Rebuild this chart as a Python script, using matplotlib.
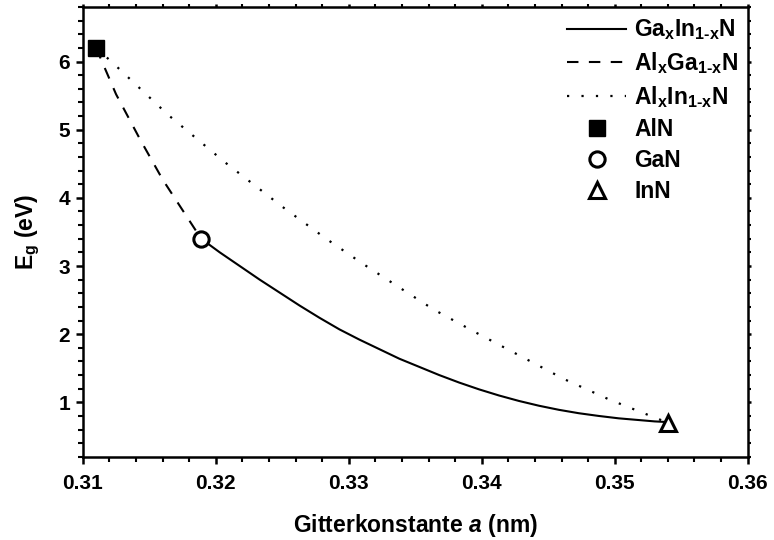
import numpy as np
import matplotlib
matplotlib.use("Agg")
import matplotlib.pyplot as plt
from matplotlib.ticker import MultipleLocator

# --- Fonts ---
plt.rcParams['font.family'] = ['Liberation Sans', 'DejaVu Sans']
plt.rcParams['font.weight'] = 'bold'
plt.rcParams['mathtext.fontset'] = 'custom'
plt.rcParams['mathtext.rm'] = 'Liberation Sans:bold'
plt.rcParams['mathtext.it'] = 'Liberation Sans:bold:italic'
plt.rcParams['mathtext.bf'] = 'Liberation Sans:bold'

# --- Data ---
# binary compounds: lattice constant a (nm), band gap Eg (eV)
aln = (0.3110, 6.20)
gan = (0.3189, 3.40)
inn = (0.3540, 0.70)

# Ga(x)In(1-x)N, solid
gainn_a = [0.3189, 0.3203, 0.3218, 0.3233, 0.3248, 0.3263, 0.3278, 0.3293,
           0.3308, 0.3323, 0.3338, 0.3353, 0.3368, 0.3383, 0.3398, 0.3413,
           0.3428, 0.3443, 0.3458, 0.3473, 0.3488, 0.3503, 0.3518, 0.3530,
           0.3540]
gainn_eg = [3.40, 3.20, 3.00, 2.80, 2.61, 2.42, 2.24, 2.07,
            1.92, 1.78, 1.64, 1.52, 1.40, 1.29, 1.19, 1.10,
            1.02, 0.95, 0.89, 0.84, 0.80, 0.765, 0.74, 0.72,
            0.71]

# Al(x)Ga(1-x)N, dashed
algan_a = [0.3110, 0.3125, 0.3143, 0.3160, 0.3178, 0.3189]
algan_eg = [6.20, 5.52, 4.86, 4.27, 3.73, 3.40]

# Al(x)In(1-x)N, dotted
alinn_a = [0.3110, 0.3122, 0.3164, 0.3207, 0.3250, 0.3283, 0.3310, 0.3344,
           0.3364, 0.3395, 0.3429, 0.3462, 0.3496, 0.3540]
alinn_eg = [6.20, 5.99, 5.22, 4.52, 3.87, 3.40, 3.04, 2.61,
            2.36, 2.03, 1.68, 1.34, 1.04, 0.70]

# --- Plot ---
fig = plt.figure(figsize=(7.74, 5.40), dpi=100)
ax = fig.add_axes([0.107, 0.154, 0.859, 0.833])

ax.plot(gainn_a, gainn_eg, color='black', lw=1.5, ls='-',
        label=r'Ga$_\mathrm{x}$In$_\text{1-x}$N')
ax.plot(algan_a, algan_eg, color='black', lw=1.5, ls=(0, (5.5, 5)),
        label=r'Al$_\mathrm{x}$Ga$_\text{1-x}$N')
ax.plot(alinn_a, alinn_eg, color='black', lw=1.6, ls=(0, (1, 5.5)),
        label=r'Al$_\mathrm{x}$In$_\text{1-x}$N')

ax.plot([aln[0]], [aln[1]], ls='none', marker='s', ms=11,
        mfc='black', mec='black', label='AlN')
ax.plot([gan[0]], [gan[1]], ls='none', marker='o', ms=11,
        mfc='white', mec='black', mew=2.2, label='GaN')
ax.plot([inn[0]], [inn[1]], ls='none', marker='^', ms=12,
        mfc='white', mec='black', mew=2.2, label='InN')

ax.set_xlim(0.31, 0.36)
ax.set_ylim(0.2, 6.8)
ax.xaxis.set_minor_locator(MultipleLocator(0.002))
ax.yaxis.set_minor_locator(MultipleLocator(0.2))
ax.set_xticks([0.31, 0.32, 0.33, 0.34, 0.35, 0.36])
ax.set_xticklabels(['0.31', '0.32', '0.33', '0.34', '0.35', '0.36'])
ax.set_yticks([1, 2, 3, 4, 5, 6])

for sp in ax.spines.values():
    sp.set_linewidth(1.8)

ax.tick_params(which='major', direction='out', length=5, width=1.8,
               labelsize=15)
ax.tick_params(axis='x', which='major', pad=7)
ax.tick_params(axis='y', which='major', pad=4)
ax.tick_params(which='minor', direction='out', length=3.5, width=1.5)
ax.tick_params(which='both', top=True, right=True)
# tiny mirrored ticks on top and right spines
for t in ax.xaxis.get_major_ticks() + ax.xaxis.get_minor_ticks():
    t.tick2line.set_markersize(2)
for t in ax.yaxis.get_major_ticks() + ax.yaxis.get_minor_ticks():
    t.tick2line.set_markersize(2)

ax.set_xlabel(r'Gitterkonstante $a$ (nm)', fontsize=16.5, fontweight='bold',
              labelpad=14)
ax.set_ylabel(r'E$_\mathrm{g}$ (eV)', fontsize=16.5, fontweight='bold',
              labelpad=12)

leg = ax.legend(loc='upper right', frameon=False, fontsize=16.5,
                handlelength=2.6, handletextpad=0.35, labelspacing=0.35,
                markerscale=1.0, borderaxespad=0.0,
                bbox_to_anchor=(1.0, 0.997))

fig.savefig('out.png', dpi=100)
